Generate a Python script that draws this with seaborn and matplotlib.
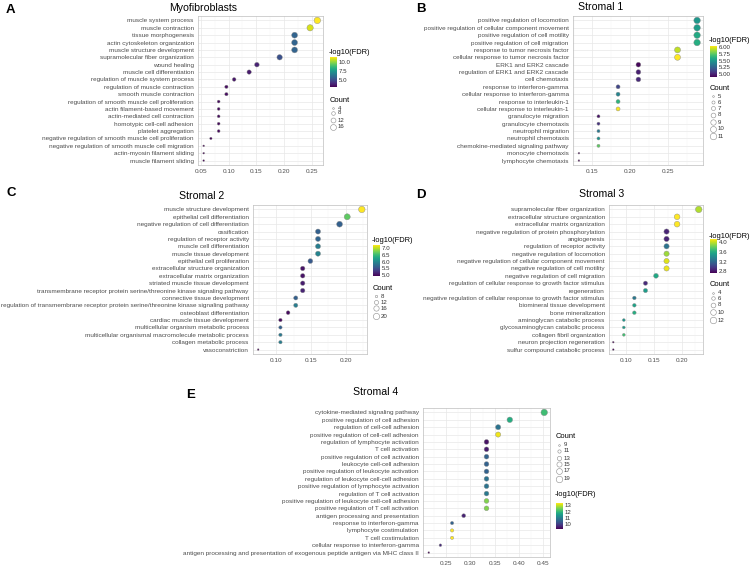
import matplotlib
matplotlib.use("Agg")
import matplotlib.pyplot as plt
import seaborn as sns
import pandas as pd
import numpy as np
from matplotlib.colors import Normalize
from matplotlib.colorbar import ColorbarBase

sns.set_theme(style="white")
plt.rcParams["font.family"] = ["Liberation Sans", "DejaVu Sans"]

W, H = 754, 566
SIZES = (1.5, 22)

# ---------------- data ----------------
myo_terms = ["muscle system process", "muscle contraction", "tissue morphogenesis",
             "actin cytoskeleton organization", "muscle structure development",
             "supramolecular fiber organization", "wound healing", "muscle cell differentiation",
             "regulation of muscle system process", "regulation of muscle contraction",
             "smooth muscle contraction", "regulation of smooth muscle cell proliferation",
             "actin filament-based movement", "actin-mediated cell contraction",
             "homotypic cell-cell adhesion", "platelet aggregation",
             "negative regulation of smooth muscle cell proliferation",
             "negative regulation of smooth muscle cell migration",
             "actin-myosin filament sliding", "muscle filament sliding"]
myo_ratio = [0.260, 0.247, 0.219, 0.219, 0.219, 0.192, 0.151, 0.137, 0.110, 0.096,
             0.096, 0.082, 0.082, 0.082, 0.082, 0.082, 0.068, 0.055, 0.055, 0.055]
myo_count = [19, 18, 16, 16, 16, 14, 11, 10, 8, 7, 7, 6, 6, 6, 6, 6, 5, 4, 4, 4]
myo_fdr = [11.4, 10.9, 5.6, 5.6, 5.6, 5.0, 3.7, 3.5, 3.4, 3.2,
           3.2, 3.1, 3.1, 3.1, 3.1, 3.1, 3.0, 2.9, 2.9, 2.9]
myo_xticks = [0.05, 0.10, 0.15, 0.20, 0.25]
myo_cbar_labels = ["5.0", "7.5", "10.0"]
myo_size_breaks = [4, 8, 12, 16]

s1_terms = ["positive regulation of locomotion", "positive regulation of cellular component movement",
            "positive regulation of cell motility", "positive regulation of cell migration",
            "response to tumor necrosis factor", "cellular response to tumor necrosis factor",
            "ERK1 and ERK2 cascade", "regulation of ERK1 and ERK2 cascade", "cell chemotaxis",
            "response to interferon-gamma", "cellular response to interferon-gamma",
            "response to interleukin-1", "cellular response to interleukin-1",
            "granulocyte migration", "granulocyte chemotaxis", "neutrophil migration",
            "neutrophil chemotaxis", "chemokine-mediated signaling pathway",
            "monocyte chemotaxis", "lymphocyte chemotaxis"]
s1_ratio = [0.289, 0.289, 0.289, 0.289, 0.263, 0.263, 0.211, 0.211, 0.211, 0.184,
            0.184, 0.184, 0.184, 0.158, 0.158, 0.158, 0.158, 0.158, 0.132, 0.132]
s1_count = [11, 11, 11, 11, 10, 10, 8, 8, 8, 7, 7, 7, 7, 6, 6, 6, 6, 6, 5, 5]
s1_fdr = [5.50, 5.52, 5.58, 5.60, 5.92, 6.03, 4.92, 5.00, 5.03, 5.13,
          5.41, 5.63, 6.02, 4.96, 5.07, 5.35, 5.47, 5.75, 4.90, 4.90]
s1_xticks = [0.15, 0.20, 0.25]
s1_cbar_labels = ["5.00", "5.25", "5.50", "5.75", "6.00"]
s1_size_breaks = [5, 6, 7, 8, 9, 10, 11]

s2_terms = ["muscle structure development", "epithelial cell differentiation",
            "negative regulation of cell differentiation", "ossification",
            "regulation of receptor activity", "muscle cell differentiation",
            "muscle tissue development", "epithelial cell proliferation",
            "extracellular structure organization", "extracellular matrix organization",
            "striated muscle tissue development",
            "transmembrane receptor protein serine/threonine kinase signaling pathway",
            "connective tissue development",
            "regulation of transmembrane receptor protein serine/threonine kinase signaling pathway",
            "osteoblast differentiation", "cardiac muscle tissue development",
            "multicellular organism metabolic process",
            "multicellular organismal macromolecule metabolic process",
            "collagen metabolic process", "vasoconstriction"]
s2_ratio = [0.223, 0.202, 0.191, 0.160, 0.160, 0.160, 0.160, 0.149, 0.138, 0.138,
            0.138, 0.138, 0.128, 0.128, 0.117, 0.106, 0.106, 0.106, 0.106, 0.074]
s2_count = [21, 19, 18, 15, 15, 15, 15, 14, 13, 13, 13, 13, 12, 12, 11, 10, 10, 10, 10, 7]
s2_fdr = [7.25, 6.67, 5.63, 5.63, 5.67, 5.90, 5.97, 5.58, 5.05, 5.05,
          5.12, 5.16, 5.63, 5.90, 5.00, 4.98, 5.63, 5.86, 5.90, 4.93]
s2_xticks = [0.10, 0.15, 0.20]
s2_cbar_labels = ["5.0", "5.5", "6.0", "6.5", "7.0"]
s2_size_breaks = [8, 12, 16, 20]

s3_terms = ["supramolecular fiber organization", "extracellular structure organization",
            "extracellular matrix organization", "negative regulation of protein phosphorylation",
            "angiogenesis", "regulation of receptor activity", "negative regulation of locomotion",
            "negative regulation of cellular component movement",
            "negative regulation of cell motility", "negative regulation of cell migration",
            "regulation of cellular response to growth factor stimulus", "regeneration",
            "negative regulation of cellular response to growth factor stimulus",
            "biomineral tissue development", "bone mineralization",
            "aminoglycan catabolic process", "glycosaminoglycan catabolic process",
            "collagen fibril organization", "neuron projection regeneration",
            "sulfur compound catabolic process"]
s3_ratio = [0.231, 0.192, 0.192, 0.173, 0.173, 0.173, 0.173, 0.173, 0.173, 0.154,
            0.135, 0.135, 0.115, 0.115, 0.115, 0.096, 0.096, 0.096, 0.077, 0.077]
s3_count = [12, 10, 10, 9, 9, 9, 9, 9, 9, 8, 7, 7, 6, 6, 6, 5, 5, 5, 4, 4]
s3_fdr = [3.97, 4.14, 4.14, 2.86, 2.86, 3.26, 3.93, 4.07, 4.10, 3.57,
          2.89, 3.50, 3.29, 3.54, 3.60, 3.46, 3.50, 3.71, 2.72, 2.72]
s3_xticks = [0.10, 0.15, 0.20]
s3_cbar_labels = ["2.8", "3.2", "3.6", "4.0"]
s3_size_breaks = [4, 6, 8, 10, 12]

s4_terms = ["cytokine-mediated signaling pathway", "positive regulation of cell adhesion",
            "regulation of cell-cell adhesion", "positive regulation of cell-cell adhesion",
            "regulation of lymphocyte activation", "T cell activation",
            "positive regulation of cell activation", "leukocyte cell-cell adhesion",
            "positive regulation of leukocyte activation",
            "regulation of leukocyte cell-cell adhesion",
            "positive regulation of lymphocyte activation", "regulation of T cell activation",
            "positive regulation of leukocyte cell-cell adhesion",
            "positive regulation of T cell activation", "antigen processing and presentation",
            "response to interferon-gamma", "lymphocyte costimulation", "T cell costimulation",
            "cellular response to interferon-gamma",
            "antigen processing and presentation of exogenous peptide antigen via MHC class II"]
s4_ratio = [0.452, 0.381, 0.357, 0.357, 0.333, 0.333, 0.333, 0.333, 0.333, 0.333,
            0.333, 0.333, 0.333, 0.333, 0.286, 0.262, 0.262, 0.262, 0.238, 0.214]
s4_count = [19, 16, 15, 15, 14, 14, 14, 14, 14, 14, 14, 14, 14, 14, 12, 11, 11, 11, 10, 9]
s4_fdr = [12.1, 11.8, 10.8, 13.3, 9.4, 9.5, 10.5, 10.5, 10.5, 10.8,
          10.8, 10.9, 12.6, 12.6, 9.6, 10.5, 13.4, 13.4, 9.7, 9.2]
s4_xticks = [0.25, 0.30, 0.35, 0.40, 0.45]
s4_cbar_labels = ["10", "11", "12", "13"]
s4_size_breaks = [9, 11, 13, 15, 17, 19]

# ---------------- layout ----------------
def frac(l, t, r, b):
    return [l / W, 1 - b / H, (r - l) / W, (b - t) / H]

fig = plt.figure(figsize=(W / 100, H / 100), dpi=100)
fig.patch.set_facecolor("white")
texts = []  # (x, y, s, kwargs)
legend_pts = []

LABEL_FS = 4.6


def size_of(c, cn):
    if cn[1] == cn[0]:
        return SIZES[1]
    v = SIZES[0] + (c - cn[0]) / (cn[1] - cn[0]) * (SIZES[1] - SIZES[0])
    return max(v, 0.6)


def panel(terms, ratio, count, fdr, xticks, cbar_labels, size_breaks, title, letter, lay):
    df = pd.DataFrame({"Description": terms, "GeneRatio": ratio,
                       "Count": count, "logFDR": fdr})
    ax = fig.add_axes(frac(*lay["ax"]))
    cn = (min(count), max(count))
    hn = (min(fdr), max(fdr))
    sns.scatterplot(data=df, x="GeneRatio", y="Description", hue="logFDR", size="Count",
                    palette="viridis", hue_norm=hn, size_norm=cn, sizes=SIZES,
                    edgecolor="#8c8c8c", linewidth=0.3, legend=False, ax=ax, zorder=3)
    n = len(terms)
    ax.set_ylim(n - 0.4, -0.6)
    lo, hi = min(ratio), max(ratio)
    pad = (hi - lo) * 0.05
    ax.set_xticks(xticks)
    ax.set_xticklabels([f"{t:.2f}" for t in xticks])
    step = xticks[1] - xticks[0]
    ax.set_xticks(np.arange(xticks[0] - step * 1.5, hi + pad + step, step), minor=True)
    ax.set_xlim(lo - pad, hi + pad)
    ax.grid(True, which="major", color="#E8E8E8", lw=0.5)
    ax.grid(True, which="minor", axis="x", color="#F1F1F1", lw=0.3)
    ax.set_axisbelow(True)
    for s in ax.spines.values():
        s.set_color("#BDBDBD")
        s.set_linewidth(0.5)
    ax.tick_params(axis="both", which="major", labelsize=LABEL_FS, labelcolor="#4D4D4D",
                   length=1.5, width=0.4, color="#BDBDBD", pad=1.5)
    ax.tick_params(which="minor", length=0)
    ax.set_xlabel("")
    ax.set_ylabel("")

    # title and panel letter
    tx, ty = lay["title"]
    texts.append((tx, ty, title, dict(ha="center", va="center", fontsize=7.6, color="black")))
    lx, ly = lay["letter"]
    texts.append((lx, ly, letter, dict(ha="center", va="center", fontsize=9.5,
                                       fontweight="bold", color="black")))

    # colour bar
    cx, ct, cb = lay["cbar"]
    cax = fig.add_axes(frac(cx, ct, cx + 6.5, cb))
    ticks = [float(v) for v in cbar_labels]
    cbar = ColorbarBase(cax, cmap=plt.get_cmap("viridis"), norm=Normalize(*hn), ticks=ticks)
    cbar.outline.set_visible(False)
    cax.set_yticklabels(cbar_labels)
    cax.tick_params(axis="y", which="both", labelsize=4.4, labelcolor="#333333", length=1.3,
                    width=0.4, color="white", direction="in", pad=1.5, left=True, right=True)
    cax.yaxis.set_minor_locator(matplotlib.ticker.NullLocator())
    texts.append((cx - 1, lay["cbar_title"], "-log10(FDR)",
                  dict(ha="left", va="center", fontsize=5.4, color="black")))

    # size legend
    sx, st, sys_ = lay["size"]
    texts.append((sx - 3, st, "Count", dict(ha="left", va="center", fontsize=5.4, color="black")))
    for b, yy in zip(size_breaks, sys_):
        legend_pts.append((sx, yy, size_of(b, cn)))
        texts.append((sx + 5, yy, str(b), dict(ha="left", va="center", fontsize=4.4,
                                               color="#333333")))
    return ax


panel(myo_terms, myo_ratio, myo_count, myo_fdr, myo_xticks, myo_cbar_labels, myo_size_breaks,
      "Myofibroblasts", "A",
      dict(ax=(198, 16, 323, 165), title=(203, 8), letter=(10, 10),
           cbar=(330, 57, 87), cbar_title=53,
           size=(333, 100, [108, 113, 120, 127])))

panel(s1_terms, s1_ratio, s1_count, s1_fdr, s1_xticks, s1_cbar_labels, s1_size_breaks,
      "Stromal 1", "B",
      dict(ax=(573, 16, 703, 165), title=(601, 7), letter=(421, 9),
           cbar=(710, 46, 77), cbar_title=41,
           size=(713, 89, [96, 102, 108, 115, 122, 129, 136])))

panel(s2_terms, s2_ratio, s2_count, s2_fdr, s2_xticks, s2_cbar_labels, s2_size_breaks,
      "Stromal 2", "C",
      dict(ax=(253, 205, 367, 354), title=(202, 196), letter=(11, 193),
           cbar=(373, 245, 276), cbar_title=241,
           size=(376, 288, [296, 302, 308, 316])))

panel(s3_terms, s3_ratio, s3_count, s3_fdr, s3_xticks, s3_cbar_labels, s3_size_breaks,
      "Stromal 3", "D",
      dict(ax=(609, 205, 703, 354), title=(602, 194), letter=(421, 195),
           cbar=(710, 239, 273), cbar_title=236,
           size=(713, 285, [293, 298, 305, 312, 320])))

panel(s4_terms, s4_ratio, s4_count, s4_fdr, s4_xticks, s4_cbar_labels, s4_size_breaks,
      "Stromal 4", "E",
      dict(ax=(423, 408, 550, 557), title=(376, 392), letter=(191, 395),
           cbar=(556, 503, 529), cbar_title=495,
           size=(559, 437, [445, 451, 458, 464, 471, 479])))

# overlay for titles, letters and legends (pixel coordinates)
ov = fig.add_axes([0, 0, 1, 1], zorder=10)
ov.set_xlim(0, W)
ov.set_ylim(H, 0)
ov.axis("off")
for x, y, s, kw in texts:
    ov.text(x, y, s, **kw)
for x, y, s in legend_pts:
    ov.scatter([x], [y], s=[s], facecolor="white", edgecolor="#8c8c8c", linewidth=0.4)

fig.savefig("out.png", dpi=100, facecolor="white")
